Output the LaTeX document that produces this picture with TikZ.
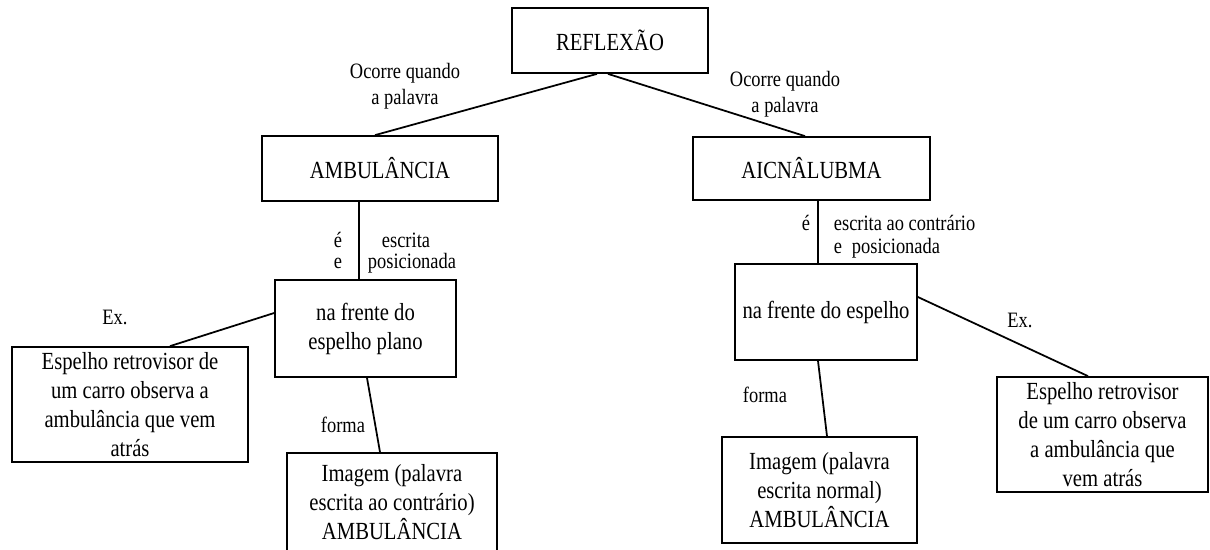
\documentclass[tikz,border=0pt]{standalone}
\usepackage{fontspec}
\setmainfont{Liberation Serif}[FakeStretch=0.84]
\begin{document}
\begin{tikzpicture}[x=0.02cm,y=-0.02cm,line width=1pt,
  conceito/.style={draw,rectangle,align=center,inner sep=0pt,font=\fontsize{14}{16.5}\selectfont},
  rotulo/.style={align=center,inner sep=0pt,font=\fontsize{12.5}{15}\selectfont}]
\useasboundingbox (0,0) rectangle (1210,549);
%\draw[help lines,step=50] (0,0) grid (1210,549);

% conceitos
\node[conceito,minimum width=196*0.02cm,minimum height=65*0.02cm] (refl) at (610,40.5) {REFLEX\~AO};
\node[conceito,minimum width=236*0.02cm,minimum height=65*0.02cm] (amb) at (380,168.5) {AMBUL\^ANCIA};
\node[conceito,minimum width=237*0.02cm,minimum height=63*0.02cm] (aicn) at (811.5,168.5) {AICN\^ALUBMA};
\node[conceito,minimum width=181*0.02cm,minimum height=97*0.02cm] (frenteE) at (365.5,328.5) {na frente do\\espelho plano};
\node[conceito,minimum width=182*0.02cm,minimum height=96*0.02cm] (frenteD) at (826,312) {na frente do espelho};
\node[conceito,minimum width=236*0.02cm,minimum height=115*0.02cm] (exE) at (130,404.5) {Espelho retrovisor de\\um carro observa a\\ambul\^ancia que vem\\atr\'as};
\node[conceito,minimum width=211*0.02cm,minimum height=115*0.02cm] (exD) at (1102.5,434.5) {Espelho retrovisor\\de um carro observa\\a ambul\^ancia que\\vem atr\'as};
\node[conceito,minimum width=210*0.02cm,minimum height=98*0.02cm] (imgE) at (392,502) {Imagem (palavra\\escrita ao contr\'ario)\\AMBUL\^ANCIA};
\node[conceito,minimum width=195*0.02cm,minimum height=106*0.02cm] (imgD) at (819.5,490) {Imagem (palavra\\escrita normal)\\AMBUL\^ANCIA};

% ligacoes
\draw ([xshift=-0.26cm]refl.south) -- ([xshift=-0.1cm]amb.north);
\draw ([xshift=-0.04cm]refl.south) -- ([xshift=-0.13cm]aicn.north);
\draw ([xshift=-0.42cm]amb.south) -- ([xshift=-0.13cm]frenteE.north);
\draw ([xshift=0.13cm]aicn.south) -- ([xshift=-0.16cm]frenteD.north);
\draw ([yshift=0.31cm]frenteE.west) -- ([xshift=0.8cm]exE.north);
\draw ([xshift=0.03cm]frenteE.south) -- ([xshift=-0.24cm]imgE.north);
\draw ([yshift=0.3cm]frenteD.east) -- ([xshift=-0.29cm]exD.north);
\draw ([xshift=-0.16cm]frenteD.south) -- ([xshift=0.15cm]imgD.north);

% rotulos
\node[rotulo] (ocE) at (405,86) {Ocorre quando\\a palavra};
\node[rotulo] (ocD) at (785,94.5) {Ocorre quando\\a palavra};
\node[rotulo] (agE) at (338,240) {\'e};
\node[rotulo] (eE) at (338,263) {e};
\node[rotulo] (escE) at (406,240) {escrita};
\node[rotulo] (posE) at (412,263) {posicionada};
\node[rotulo,anchor=west] (agD) at (801,223) {\'e};
\node[rotulo,anchor=west] (escD) at (833,223) {escrita ao contr\'ario};
\node[rotulo,anchor=west] (posD) at (833,248) {e\hspace{0.45em}posicionada};
\node[rotulo] (exlE) at (115,317) {Ex.};
\node[rotulo] (exlD) at (1020,320) {Ex.};
\node[rotulo] (fmE) at (343,425) {forma};
\node[rotulo] (fmD) at (765,395) {forma};
\end{tikzpicture}
\end{document}
